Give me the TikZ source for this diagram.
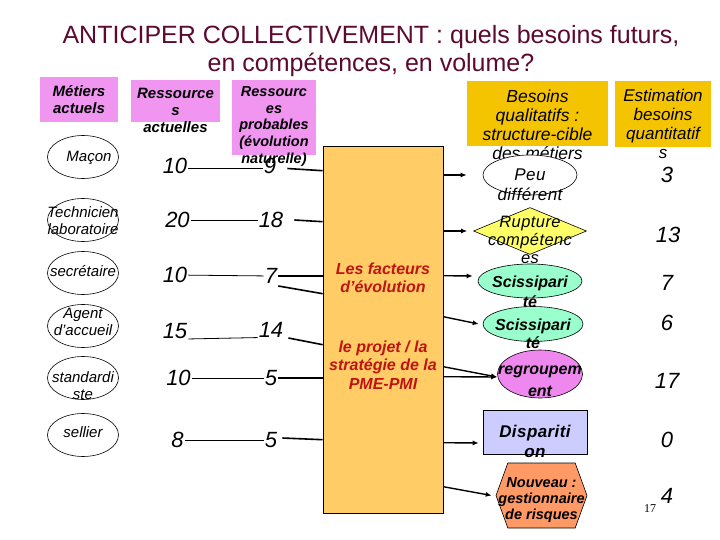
\documentclass[tikz,border=0pt]{standalone}
\usepackage{fontspec}
\setmainfont{Liberation Sans}
\newfontfamily\pagefont{Liberation Serif}
\newfontfamily\trackfont[LetterSpace=2.5]{Liberation Sans}
\usetikzlibrary{positioning,arrows.meta,shapes.geometric,shapes.symbols,calc}

\definecolor{titlered}{RGB}{92,10,48}
\definecolor{rose}{RGB}{240,150,240}
\definecolor{gold}{RGB}{245,196,0}
\definecolor{boxorange}{RGB}{255,204,102}
\definecolor{factred}{RGB}{190,20,20}
\definecolor{ruptyellow}{RGB}{255,255,102}
\definecolor{mint}{RGB}{153,255,204}
\definecolor{regviolet}{RGB}{238,136,238}
\definecolor{dispblue}{RGB}{204,204,255}
\definecolor{newsalmon}{RGB}{255,153,102}

\begin{document}
\begin{tikzpicture}[
        x=1pt, y=-1pt,
        >={Latex[length=6pt,width=5pt]},
        hdr/.style={
            fill=rose,
            inner sep=0pt,
            align=center,
            font=\fontsize{15}{17}\selectfont\bfseries\itshape
        },
        goldhdr/.style={
            fill=gold,
            inner sep=0pt
        },
        spill/.style={
            align=center,
            inner sep=0pt
        },
        metier/.style={
            ellipse,
            draw,
            line width=0.6pt,
            minimum width=71pt,
            minimum height=43pt,
            inner sep=0pt
        },
        metiertxt/.style={
            spill,
            font=\fontsize{15}{17}\selectfont\itshape
        },
        num/.style={
            inner sep=1pt,
            font=\fontsize{22}{22}\selectfont\itshape
        },
        link/.style={line width=0.8pt},
        feed/.style={line width=1.6pt},
        arr/.style={->, line width=1.4pt},
        target/.style={
            draw,
            line width=0.6pt,
            inner sep=0pt
        }
    ]
    \useasboundingbox[fill=white] (0,0) rectangle (720,540);

    % titre
    \node[align=center, text=titlered, font=\fontsize{25}{28}\selectfont] (titre) at (371,51)
        {ANTICIPER COLLECTIVEMENT : quels besoins futurs,\\en compétences, en volume?};

    % en-tetes
    \node[hdr, minimum width=78pt, minimum height=45pt] (metiers) at (79,99.5) {Métiers\\actuels};
    \node[hdr, minimum width=89pt, minimum height=42pt,
        label={[hdr, fill=none, yshift=-9pt]center:{Ressource\\s\\actuelles}}] (ressact) at (175.5,101) {};
    \node[hdr, minimum width=84pt, minimum height=75pt,
        label={[hdr, fill=none, yshift=-9pt, font=\fontsize{14.5}{16.7}\selectfont\bfseries\itshape]center:{Ressourc\\es\\probables\\(évolution\\naturelle)}}] (ressprob) at (274,117.5) {};
    \node[goldhdr, minimum width=141pt, minimum height=65pt,
        label={[spill, yshift=-11pt, font=\fontsize{17.5}{19}\selectfont\itshape]center:{Besoins\\qualitatifs :\\structure-cible\\des métiers}}] (besqual) at (537.5,113.5) {};
    \node[goldhdr, minimum width=96pt, minimum height=66pt,
        label={[spill, yshift=-10pt, font=\fontsize{17}{19}\selectfont\itshape]center:{Estimation\\besoins\\quantitatif\\s}}] (estim) at (663,114) {};

    % metiers actuels
    \node[metier, label={[metiertxt, xshift=6pt, yshift=-1pt]center:Maçon}] (macon) at (83,157) {};
    \node[metier, label={[metiertxt, yshift=-1pt]center:{Technicien\\laboratoire}}] (techn) at (83,220) {};
    \node[metier, label={[metiertxt, yshift=2pt]center:secrétaire}] (secr) at (83,273) {};
    \node[metier, label={[metiertxt, yshift=4pt]center:{Agent\\d'accueil}}] (agent) at (83,326) {};
    \node[metier, label={[metiertxt, yshift=-8pt]center:{standardi\\ste}}] (stand) at (83,378) {};
    \node[metier, label={[metiertxt, yshift=3pt]center:sellier}] (sell) at (83,435) {};

    % ressources actuelles et probables
    \node[num] (r1) at (175,165.5) {10};
    \node[num] (r2) at (177.5,220) {20};
    \node[num] (r3) at (175,275) {10};
    \node[num] (r4) at (175,331.5) {15};
    \node[num] (r5) at (178.5,378) {10};
    \node[num] (r6) at (177.5,440) {8};
    \node[num] (p1) at (270,165.5) {9};
    \node[num] (p2) at (271,220) {18};
    \node[num] (p3) at (271,276) {7};
    \node[num] (p4) at (271,330) {14};
    \node[num] (p5) at (271,378) {5};
    \node[num] (p6) at (271,440) {5};

    \draw[link] ([yshift=-3pt]r1.east) -- ([yshift=-3pt]p1.west);
    \draw[link] (r2) -- (p2);
    \draw[link] (r3) -- (p3);
    \draw[link] (r4.base east) -- (p4.base west);
    \draw[link] (r5) -- (p5);
    \draw[link] (r6) -- (p6);

    % facteurs d'evolution
    \node[draw, fill=boxorange, line width=0.6pt, minimum width=120pt, minimum height=367pt, inner sep=0pt] (box) at (383,329.5) {};
    \node[align=center, text=factred, font=\fontsize{16}{18}\selectfont\bfseries\itshape] (facteurs) at (383,278) {Les facteurs\\d’évolution};
    \node[align=center, text=factred, font=\fontsize{16}{18.5}\selectfont\bfseries\itshape] (projet) at (383,365) {le projet / la\\stratégie de la\\PME-PMI};

    \draw[feed] ([xshift=10pt,yshift=-3pt]p1.east) -- ($(box.north west)+(0,25)$);
    \draw[feed] ([xshift=10pt]p2.east) -- ($(box.north west)+(0,76)$);
    \draw[feed] (p3.east) -- (p3.east -| box.west);
    \draw[feed] ([yshift=-10pt]p3.east) -- ($(box.north west)+(0,148)$);
    \draw[feed] ([xshift=4pt,yshift=-8pt]p4.east) -- ($(box.north west)+(0,199)$);
    \draw[feed] (p5.east) -- (p5.east -| box.west);
    \draw[feed] ([xshift=4pt,yshift=2pt]p6.east) -- ($(box.north west)+(0,294)$);

    % besoins qualitatifs
    \node[target, ellipse, fill=white, minimum width=94pt, minimum height=40pt,
        label={[spill, yshift=-10pt, font=\trackfont\fontsize{17}{20}\selectfont\itshape]center:{Peu\\différent}}] (peu) at (530,175) {};
    \node[target, diamond, fill=ruptyellow, minimum width=113pt, minimum height=47pt,
        label={[spill, yshift=-9pt, font=\trackfont\fontsize{16.5}{18}\selectfont\itshape]center:{Rupture\\compétenc\\es}}] (rupt) at (530,231) {};
    \node[target, ellipse, fill=mint, minimum width=104pt, minimum height=34pt,
        label={[spill, yshift=-11pt, font=\fontsize{16}{20}\selectfont\bfseries\itshape]center:{Scissipari\\té}}] (sciss1) at (530,281) {};
    \node[target, ellipse, fill=mint, minimum width=100pt, minimum height=35pt,
        label={[spill, yshift=-10pt, font=\fontsize{16}{18}\selectfont\bfseries\itshape]center:{Scissipari\\té}}] (sciss2) at (533,324) {};
    \node[target, ellipse, fill=regviolet, minimum width=85pt, minimum height=48pt,
        label={[spill, yshift=-7pt, font=\fontsize{16}{22}\selectfont\bfseries\itshape]center:{regroupem\\ent}}] (regr) at (540,374) {};
    \node[target, rectangle, fill=dispblue, minimum width=104pt, minimum height=44pt,
        label={[spill, yshift=-9pt, font=\trackfont\fontsize{17}{20}\selectfont\bfseries\itshape]center:{Dispariti\\on}}] (disp) at (535,432) {};
    \node[target, signal, signal to=east and west, signal pointer angle=140, fill=newsalmon,
        minimum width=91pt, minimum height=65pt,
        label={[spill, yshift=-5pt, font=\fontsize{14.5}{16}\selectfont\bfseries\itshape]center:{Nouveau :\\gestionnaire\\de risques}}] (nouv) at (541.5,495.5) {};

    \draw[arr] (box.east |- peu.west) -- ([xshift=-16pt]peu.west);
    \draw[arr] (box.east |- rupt.west) -- ([xshift=-6pt]rupt.west);
    \draw[arr] ($(box.north east)+(0,130)$) -- ([xshift=-5pt,yshift=5pt]sciss1.west);
    \draw[arr] ($(box.north east)+(0,171)$) -- ([xshift=-4pt]sciss2.west);
    \draw[arr] ($(box.north east)+(0,221)$) -- ([yshift=-3pt]regr.west);
    \draw[arr] ($(box.north east)+(0,231)$) -- ([yshift=-3pt]regr.west);
    \draw[arr] ($(box.north east)+(0,297)$) -- ([xshift=-4pt,yshift=-11pt]disp.west);
    \draw[arr] ($(box.north east)+(0,341)$) -- ([xshift=-4pt]nouv.west);

    % besoins quantitatifs
    \node[num] (q1) at (667,175) {3};
    \node[num] (q2) at (668,235) {13};
    \node[num] (q3) at (667,283) {7};
    \node[num] (q4) at (667,323) {6};
    \node[num] (q5) at (667,381) {17};
    \node[num] (q6) at (667,440) {0};
    \node[num] (q7) at (667,496) {4};
    \node[font=\pagefont\fontsize{12}{12}\selectfont, inner sep=0pt] (page) at (650,509) {17};
\end{tikzpicture}
\end{document}
